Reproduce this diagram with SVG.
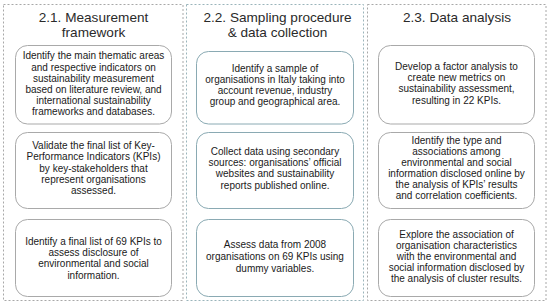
<svg xmlns="http://www.w3.org/2000/svg" width="550" height="306" viewBox="0 0 550 306">
<style>
.col{fill:none;stroke:#a8a8a8;stroke-width:1;stroke-dasharray:2 2}
.col2{stroke:#9ab4bb}
.box{fill:#fff;stroke:#a9a9a9;stroke-width:1}
.box2{stroke:#8aaab3}
.t{font-family:"Liberation Sans",Arial,sans-serif;font-size:13.6px;fill:#2a2a2a;text-anchor:middle}
.b{font-family:"Liberation Sans",Arial,sans-serif;font-size:10px;fill:#1a1a1a;text-anchor:middle}
</style>
<rect width="550" height="306" fill="#fff"/>
<g id="col1">
<rect class="col" x="3.5" y="4.5" width="179.5" height="296"/>
<text class="t" x="93.5" y="21.7">2.1. Measurement</text>
<text class="t" x="93.5" y="37.3">framework</text>
</g>
<g id="col2">
<rect class="col col2" x="186.5" y="4.5" width="177" height="296"/>
<text class="t" x="277.5" y="21.7">2.2. Sampling procedure</text>
<text class="t" x="277.5" y="37.3">&amp; data collection</text>
</g>
<g id="col3">
<rect class="col" x="367.5" y="4.5" width="178.5" height="296"/>
<text class="t" x="457" y="21.7">2.3. Data analysis</text>
</g>
<g id="n1a">
<rect class="box" x="15.5" y="45.5" width="156" height="78.5" rx="12"/>
<text class="b" x="93.5" y="59.3">Identify the main thematic areas</text>
<text class="b" x="93.5" y="70.5">and respective indicators on</text>
<text class="b" x="93.5" y="81.7">sustainability measurement</text>
<text class="b" x="93.5" y="92.9">based on literature review, and</text>
<text class="b" x="93.5" y="104.1">international sustainability</text>
<text class="b" x="93.5" y="115.3">frameworks and databases.</text>
</g>
<g id="n1b">
<rect class="box" x="15.5" y="132.5" width="156" height="76" rx="12"/>
<text class="b" x="93.5" y="149.2">Validate the final list of Key-</text>
<text class="b" x="93.5" y="160.4">Performance Indicators (KPIs)</text>
<text class="b" x="93.5" y="171.6">by key-stakeholders that</text>
<text class="b" x="93.5" y="182.8">represent organisations</text>
<text class="b" x="93.5" y="194">assessed.</text>
</g>
<g id="n1c">
<rect class="box" x="15.5" y="219.5" width="156" height="77" rx="12"/>
<text class="b" x="93.5" y="245">Identify a final list of 69 KPIs to</text>
<text class="b" x="93.5" y="256.2">assess disclosure of</text>
<text class="b" x="93.5" y="267.4">environmental and social</text>
<text class="b" x="93.5" y="278.6">information.</text>
</g>
<g id="n2a">
<rect class="box box2" x="196.5" y="51.5" width="157" height="72.5" rx="12"/>
<text class="b" x="275" y="71.7">Identify a sample of</text>
<text class="b" x="275" y="82.9">organisations in Italy taking into</text>
<text class="b" x="275" y="94.1">account revenue, industry</text>
<text class="b" x="275" y="105.3">group and geographical area.</text>
</g>
<g id="n2b">
<rect class="box box2" x="196.5" y="132.5" width="157" height="76" rx="12"/>
<text class="b" x="275" y="155">Collect data using secondary</text>
<text class="b" x="275" y="166.2">sources: organisations’ official</text>
<text class="b" x="275" y="177.4">websites and sustainability</text>
<text class="b" x="275" y="188.6">reports published online.</text>
</g>
<g id="n2c">
<rect class="box box2" x="196.5" y="219.5" width="157" height="77" rx="12"/>
<text class="b" x="275" y="248.3">Assess data from 2008</text>
<text class="b" x="275" y="260">organisations on 69 KPIs using</text>
<text class="b" x="275" y="271.5">dummy variables.</text>
</g>
<g id="n3a">
<rect class="box" x="378.5" y="45.5" width="156" height="78.5" rx="12"/>
<text class="b" x="456.5" y="70">Develop a factor analysis to</text>
<text class="b" x="456.5" y="81.2">create new metrics on</text>
<text class="b" x="456.5" y="92.4">sustainability assessment,</text>
<text class="b" x="456.5" y="103.6">resulting in 22 KPIs.</text>
</g>
<g id="n3b">
<rect class="box" x="378.5" y="132.5" width="156" height="76" rx="12"/>
<text class="b" x="456.5" y="144.3">Identify the type and</text>
<text class="b" x="456.5" y="155.3">associations among</text>
<text class="b" x="456.5" y="166.3">environmental and social</text>
<text class="b" x="456.5" y="177.3">information disclosed online by</text>
<text class="b" x="456.5" y="188.3">the analysis of KPIs’ results</text>
<text class="b" x="456.5" y="199.3">and correlation coefficients.</text>
</g>
<g id="n3c">
<rect class="box" x="378.5" y="219.5" width="156" height="77" rx="12"/>
<text class="b" x="456.5" y="237.5">Explore the association of</text>
<text class="b" x="456.5" y="248.6">organisation characteristics</text>
<text class="b" x="456.5" y="259.7">with the environmental and</text>
<text class="b" x="456.5" y="270.8">social information disclosed by</text>
<text class="b" x="456.5" y="281.9">the analysis of cluster results.</text>
</g>
<g id="connectors"></g>
</svg>
